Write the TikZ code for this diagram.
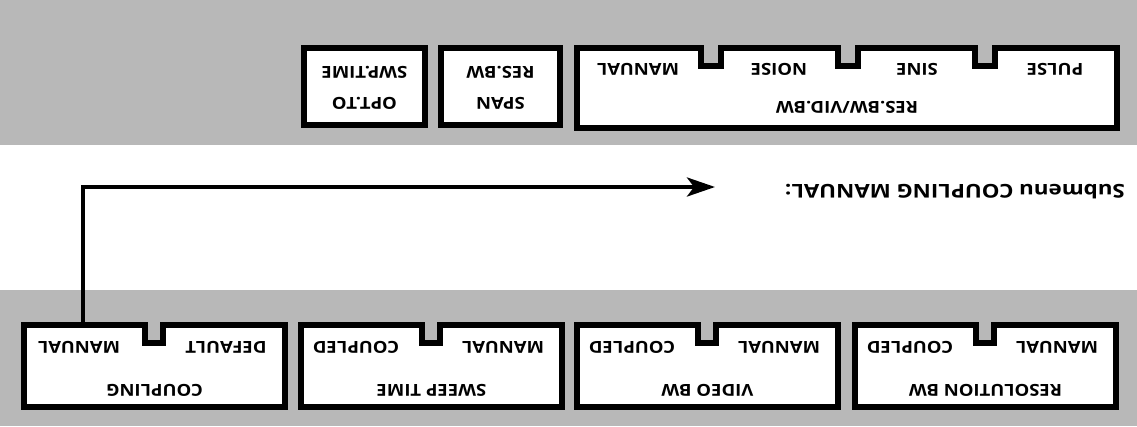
\documentclass[tikz,border=0pt]{standalone}
\usepackage{fontspec}
\setmainfont{Open Sans}
\usetikzlibrary{arrows.meta, positioning, calc}

\begin{document}
\begin{tikzpicture}[
  x=1pt, y=-1pt,
  every node/.style={font=\bfseries\fontsize{16.5}{19}\selectfont, rotate=180, xscale=1.12, inner sep=0pt},
  band/.style={fill=black!28},
  tabbox/.style={draw=black, fill=white, line width=5.5pt, line join=miter},
  arrow/.style={-{Stealth[length=28pt, width=19pt, inset=7pt]}, line width=4pt}
]
\useasboundingbox (0,0) rectangle (1137,426);

% halftone bands
\fill[band] (0,0) rectangle (1137,145);
\fill[band] (0,290) rectangle (1137,426);

% Upper menu row
\draw[tabbox] (304,48) rectangle (425,125);
\node (optto) at (364.5,103) {OPT.TO};
\node (swptime) at (364.5,72) {\addfontfeatures{Kerning=Off}SWP.TIME};
\draw[tabbox] (441,48) rectangle (560,125);
\node (span) at (500.5,103) {SPAN};
\node (resbw) at (500.5,72) {RES.BW};

\draw[tabbox] (577,48) -- (701,48) -- ++(0,18) -- ++(20,0) -- ++(0,-18)
  -- (838,48) -- ++(0,18) -- ++(20,0) -- ++(0,-18)
  -- (975,48) -- ++(0,18) -- ++(20,0) -- ++(0,-18)
  -- (1117,48) -- (1117,128) -- (577,128) -- cycle;
\node (manual) at (638,69) {MANUAL};
\node (noise) at (779,69) {NOISE};
\node (sine) at (917,69) {SINE};
\node (pulse) at (1055,69) {PULSE};
\node (resvid) at (847,107) {RES.BW/VID.BW};

% Lower menu row
\foreach \l/\ttl/\la/\lb [count=\i] in {24/COUPLING/MANUAL/DEFAULT,
    301/SWEEP TIME/COUPLED/MANUAL, 577/VIDEO BW/COUPLED/MANUAL,
    855/RESOLUTION BW/COUPLED/MANUAL} {
  \draw[tabbox] (\l,325) -- ++(121,0) -- ++(0,18) -- ++(18,0) -- ++(0,-18)
    -- ++(122,0) -- ++(0,82) -- ++(-261,0) -- cycle;
  \node (bt\i) at (\l+130.5,390) {\ttl};
  \node (bl\i) at (\l+55,347) {\la};
  \node (br\i) at (\l+202,347) {\lb};
}

% Submenu link
\node[font=\bfseries\fontsize{19}{22}\selectfont, xscale=1.05] (submenu) at (955,192) {Submenu COUPLING MANUAL:};
\coordinate (cpltab) at (83,323);
\coordinate (tip) at (715,187);
\draw[arrow] (cpltab) |- (tip);

\end{tikzpicture}
\end{document}
